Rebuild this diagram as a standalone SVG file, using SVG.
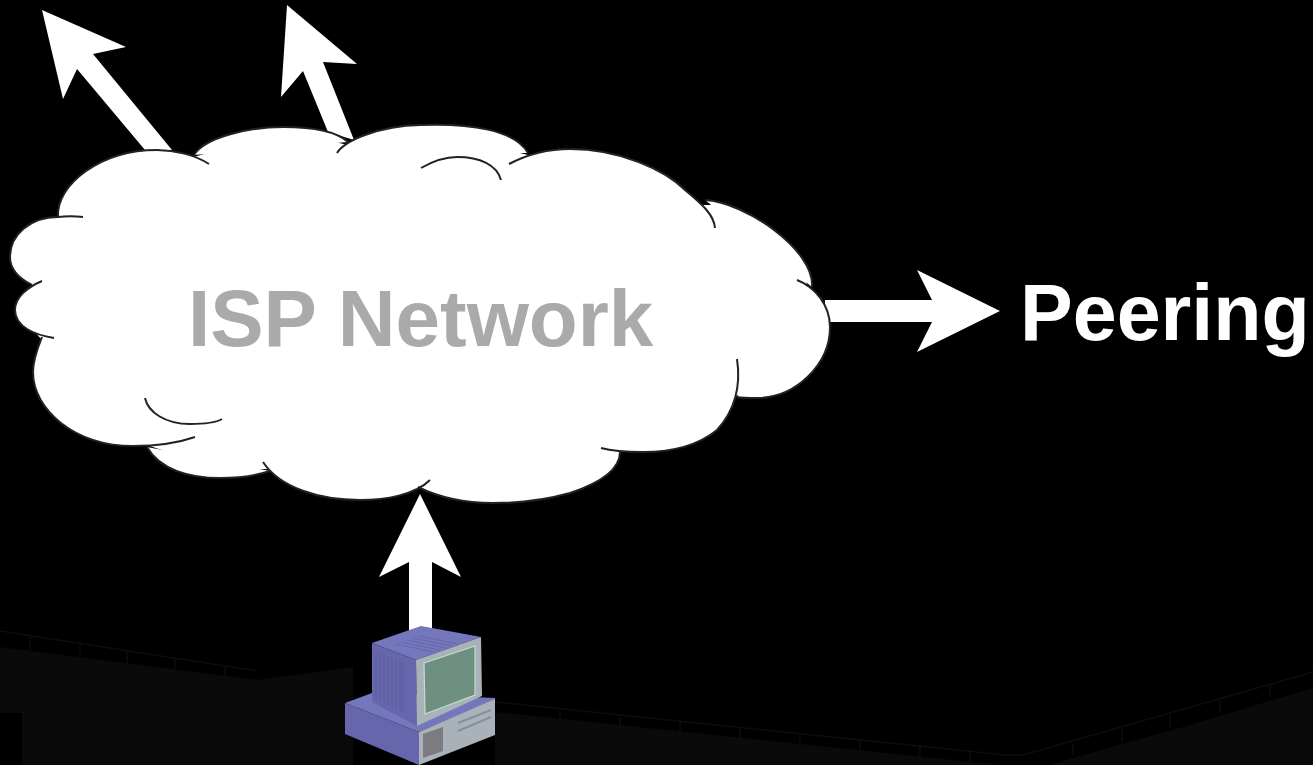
<svg xmlns="http://www.w3.org/2000/svg" width="1313" height="765" viewBox="0 0 1313 765">
<style>
.arrow{fill:#fff}
.faint{fill:#0a0a0a}
.rail{fill:none;stroke:#0d0d0d;stroke-width:1.5}
.lbl{font-family:"Liberation Sans",Arial,sans-serif;font-weight:700}
.vent{stroke:#5a5b9e;stroke-width:1;fill:none}
.grille{stroke:#6667ac;stroke-width:1;fill:none}
.side{fill:#6566ab}
.top{fill:#7577bd}
.front{fill:#a9b1b9}
.edge{fill:none;stroke:#222;stroke-width:2}
</style>
<defs>
<g id="lobes">
<path d="M58,217 C56,185 100,150 157,150 C175,150 195,155 209,164"/>
<path d="M194,155 C205,137 250,127 283,127 C310,127 335,130 348,142"/>
<path d="M337,153 C345,140 380,126 420,125 C470,123 515,130 528,153"/>
<path d="M509,164 C530,153 550,149 570,149 C620,149 665,170 685,190 C703,205 714,215 715,228"/>
<path d="M705,200 C745,202 815,250 812,287"/>
<path d="M797,280 C815,287 830,305 830,327 C830,365 795,398 757,398 C750,398 743,398 737,397"/>
<path d="M737,359 C741,385 735,410 717,430 C695,448 665,452 643,452 C625,452 612,451 601,448"/>
<path d="M620,452 C620,470 600,483 570,493 C545,500 520,503 493,503 C465,503 440,498 418,487"/>
<path d="M263,462 C280,488 320,500 360,500 C385,500 415,495 430,480"/>
<path d="M270,471 C255,476 240,478 220,478 C190,478 160,470 147,447"/>
<path d="M195,437 C175,444 155,446 133,446 C75,446 33,410 33,372 C33,360 38,347 42,337"/>
<path d="M54,338 C35,335 15,327 15,310 C15,297 28,287 42,281"/>
<path d="M32,285 C18,278 10,268 10,257 C10,235 30,217 58,217 C66,216 75,216 83,217"/>
</g>
</defs>
<rect width="1313" height="765" fill="#000"/>
<g id="backdrop">
<path class="faint" d="M0,647 L257,680 L353,667 L353,765 L68,765 L68,746 L157,734 L307,755 L307,765 L22,765 L22,713 L0,713 Z"/>
<path class="faint" d="M495,712 L1000,765 L495,765 Z"/>
<path class="faint" d="M1073,758 L1190,725 L1313,688 L1313,765 L1050,765 Z"/>
<path class="rail" d="M0,631 L257,671 M30,636 V650 M80,644 V656 M127,651 V664 M175,659 V670 M225,667 V678"/>
<path class="rail" d="M495,702 L1005,755 L1023,755 L1313,672 M560,708 V720 M620,715 V727 M680,721 V733 M740,727 V739 M800,733 V745 M860,739 V751 M920,745 V757 M970,750 V762 M1073,743 V755 M1122,729 V741 M1170,715 V727 M1220,701 V713 M1270,685 V697"/>
</g>
<g id="connectors">
<polygon class="arrow" points="145,150 77,69 63,99 42,10 126,47 93,54 172,150"/>
<polygon class="arrow" points="328,132 303,71 281,97 287,5 357,64 323,62 354,140"/>
<polygon class="arrow" points="409,630 409,562 379,577 420,494 461,577 432,562 432,630"/>
<polygon class="arrow" points="825,300 932,300 917,270 1000,311 917,352 932,322 825,322"/>
</g>
<g id="cloud">
<polygon fill="#fff" points="60,215 157,152 194,157 283,130 348,145 420,128 528,155 570,152 698,205 712,205 740,215 775,235 800,265 808,287 827,327 757,395 737,395 717,428 643,450 620,452 570,490 493,500 418,485 360,497 280,480 268,469 220,470 147,445 133,443 42,340 15,310 32,285 12,257 58,219"/>
<use href="#lobes" fill="#fff" stroke="none"/>
<use href="#lobes" class="edge"/>
<path class="edge" d="M145,398 C148,412 165,424 190,424 C205,424 215,423 222,419"/>
<path class="edge" d="M421,168 C435,160 445,157 457,157 C480,157 497,165 501,180"/>
<text class="lbl" x="188" y="346" font-size="80" fill="#aaa">ISP Network</text>
</g>
<g id="peering">
<text class="lbl" x="1020" y="340" font-size="79" fill="#fff">Peering</text>
</g>
<g id="computer">
<polygon class="top" points="345,703 372,693 495,698 495,700 419,732"/>
<polygon class="side" points="345,703 419,732 419,765 345,734"/>
<polygon class="front" points="419,732 495,699 495,735 419,765"/>
<polygon fill="#7c7c80" points="423,734 443,727 443,751 423,758"/>
<path stroke="#8a9098" stroke-width="2.2" fill="none" d="M458,723 L491,710 M458,731 L491,717"/>
<polygon class="top" points="372,643 421,626 481,637 416,660"/>
<polygon class="side" points="372,643 416,660 417,726 372,702"/>
<polygon class="front" points="416,660 481,637 482,696 417,726"/>
<polygon fill="#6f8f80" stroke="#bfe0cf" stroke-width="1.2" points="424,663 475,646 475,695 425,714"/>
<path class="vent" d="M376,652 V699 M380,653 V701 M384,655 V703 M388,656 V705 M392,658 V707 M396,659 V709 M400,661 V711 M403,662 V712"/>
<path class="grille" d="M395,644 L434,652 M401,642 L440,650 M407,640 L446,648 M413,638 L452,646 M419,636 L458,644"/>
</g>
</svg>
